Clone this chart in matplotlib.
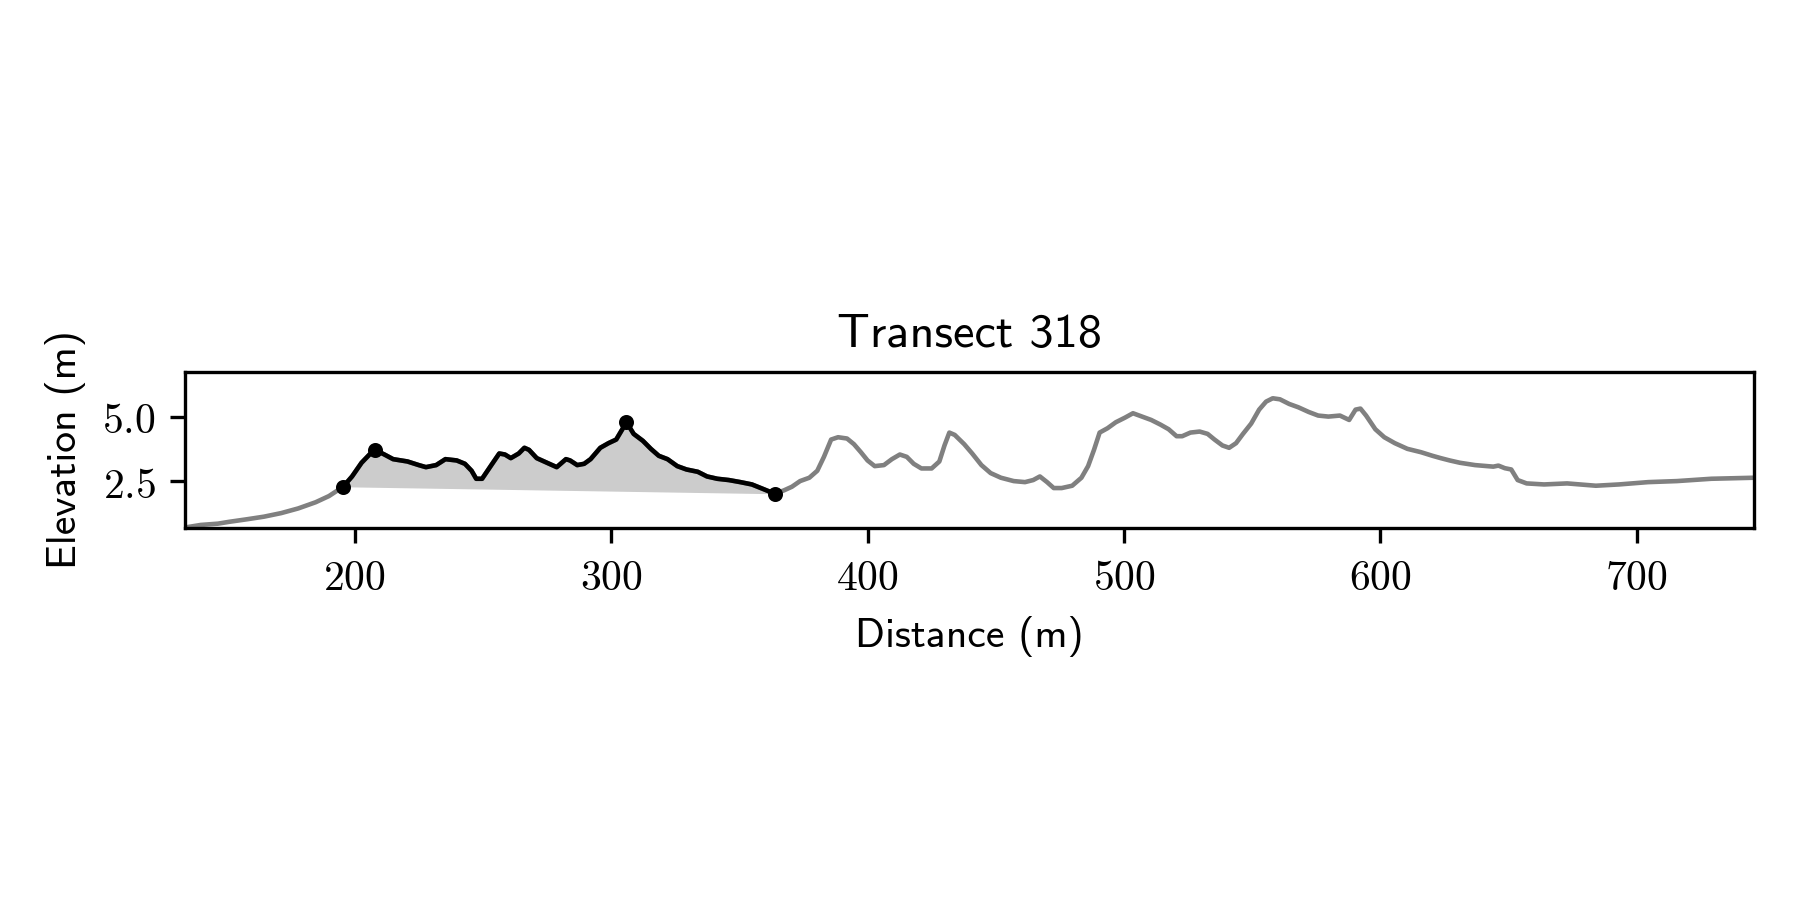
import numpy as np
import matplotlib.pyplot as plt
from matplotlib.ticker import FuncFormatter

# cross-shore profile (distance m, elevation m)
dist = [133.8, 140, 146.7, 151, 158, 164.6, 171.4, 178, 184.8, 190,
        195.5, 199, 202.7, 205.8, 208, 211.6, 215, 220.6, 225, 227.8,
        231.8, 235.4, 239.8, 243, 245.6, 247.4, 249.7, 253.3, 256.4, 258.6,
        260.9, 264, 266.2, 268, 271, 275, 278.8, 282.4, 284, 286.8,
        289.5, 292, 295.8, 299, 302, 306, 308.8, 312.4, 315.5, 318.6,
        322, 325.8, 329.4, 333.8, 337.4, 341.4, 345.9, 350.4, 354.9, 359.4,
        363.8, 367.4, 370.5, 373.7, 377.3, 380.4, 383, 385.8, 388.5, 392,
        394.7, 397.4, 400, 402.8, 406.4, 409.5, 412.6, 415.3, 418, 421,
        425, 428, 430, 431.9, 434, 437.7, 440.8, 444.4, 448, 452,
        457, 461.4, 464.6, 467.2, 470, 472.6, 475.7, 479.8, 483.4, 486,
        488.3, 490.5, 493.6, 496.8, 500.4, 503.5, 507, 510.6, 514.2, 517.4,
        520.5, 522.7, 525.9, 529.5, 532.6, 535.3, 538.4, 541, 543.7, 546.4,
        549.6, 552.7, 555.4, 558, 560.8, 564.4, 568, 572, 575.7, 579.7,
        584.2, 587.8, 590.3, 592.2, 594.4, 598, 601.5, 605.6, 610.5, 615.8,
        620.3, 623.5, 627, 631, 636.9, 641.8, 644, 646, 648.5, 651,
        653.5, 657, 663.8, 672.8, 684, 693, 704.4, 715.6, 729, 745.7]
elev = [0.70, 0.80, 0.85, 0.92, 1.02, 1.12, 1.26, 1.44, 1.68, 1.92,
        2.28, 2.68, 3.21, 3.53, 3.71, 3.53, 3.35, 3.26, 3.12, 3.04,
        3.12, 3.35, 3.30, 3.17, 2.90, 2.59, 2.59, 3.12, 3.57, 3.53,
        3.39, 3.57, 3.79, 3.71, 3.39, 3.21, 3.04, 3.35, 3.30, 3.12,
        3.17, 3.35, 3.79, 3.97, 4.11, 4.78, 4.33, 4.06, 3.75, 3.48,
        3.35, 3.08, 2.95, 2.86, 2.68, 2.59, 2.54, 2.46, 2.37, 2.19,
        2.01, 2.14, 2.28, 2.50, 2.63, 2.90, 3.44, 4.11, 4.20, 4.15,
        3.93, 3.62, 3.30, 3.08, 3.12, 3.35, 3.53, 3.44, 3.17, 2.99,
        2.99, 3.26, 3.88, 4.38, 4.29, 3.93, 3.57, 3.12, 2.81, 2.63,
        2.50, 2.46, 2.54, 2.68, 2.46, 2.23, 2.23, 2.32, 2.63, 3.08,
        3.71, 4.38, 4.55, 4.78, 4.96, 5.13, 5.00, 4.87, 4.69, 4.51,
        4.24, 4.24, 4.38, 4.42, 4.33, 4.11, 3.88, 3.79, 3.97, 4.33,
        4.73, 5.27, 5.58, 5.71, 5.67, 5.49, 5.36, 5.18, 5.04, 5.00,
        5.04, 4.87, 5.27, 5.31, 5.04, 4.51, 4.20, 3.97, 3.75, 3.62,
        3.48, 3.39, 3.30, 3.21, 3.12, 3.08, 3.06, 3.10, 3.00, 2.95,
        2.54, 2.41, 2.37, 2.41, 2.32, 2.37, 2.46, 2.50, 2.59, 2.63]

# dune toe, crests and heel
toe_x = 195.5
crest_x = [208, 306]
heel_x = 363.8

title = "Transect 318"
x_ticks = [200, 300, 400, 500, 600, 700]
y_ticks = [2.5, 5.0]

plt.rcParams["mathtext.fontset"] = "cm"

dist = np.array(dist)
elev = np.array(elev)

i_toe = int(np.argmin(abs(dist - toe_x)))
i_heel = int(np.argmin(abs(dist - heel_x)))
i_crest = [int(np.argmin(abs(dist - c))) for c in crest_x]

fig = plt.figure(figsize=(6, 3), dpi=300)
ax = fig.add_axes([0.1027, 0.413, 0.8718, 0.174])

# whole profile in grey
ax.plot(dist, elev, color="0.5", lw=1.1, zorder=2)

# dune section: filled down to a straight line from toe to heel
xs = dist[i_toe:i_heel + 1]
ys = elev[i_toe:i_heel + 1]
base = np.interp(xs, [dist[i_toe], dist[i_heel]], [elev[i_toe], elev[i_heel]])
ax.fill_between(xs, base, ys, color="0.8", lw=0, zorder=1)
ax.plot(xs, ys, color="k", lw=1.1, zorder=3)

pts = [i_toe] + i_crest + [i_heel]
ax.plot(dist[pts], elev[pts], "o", color="k", ms=2.6, zorder=4)

ax.set_xlim(dist[0], dist[-1])
ax.set_ylim(0.67, 6.74)
ax.set_xticks(x_ticks)
ax.set_yticks(y_ticks)
ax.xaxis.set_major_formatter(FuncFormatter(lambda v, p: r"$%d$" % v))
ax.yaxis.set_major_formatter(FuncFormatter(lambda v, p: r"$%.1f$" % v))
ax.tick_params(labelsize=10)

ax.set_title(title, fontfamily="cmss10", fontsize=11.6)
ax.set_xlabel("Distance (m)", fontfamily="cmss10", fontsize=10)
ax.set_ylabel("Elevation (m)", fontfamily="cmss10", fontsize=10)

fig.savefig("out.png", dpi=300)
